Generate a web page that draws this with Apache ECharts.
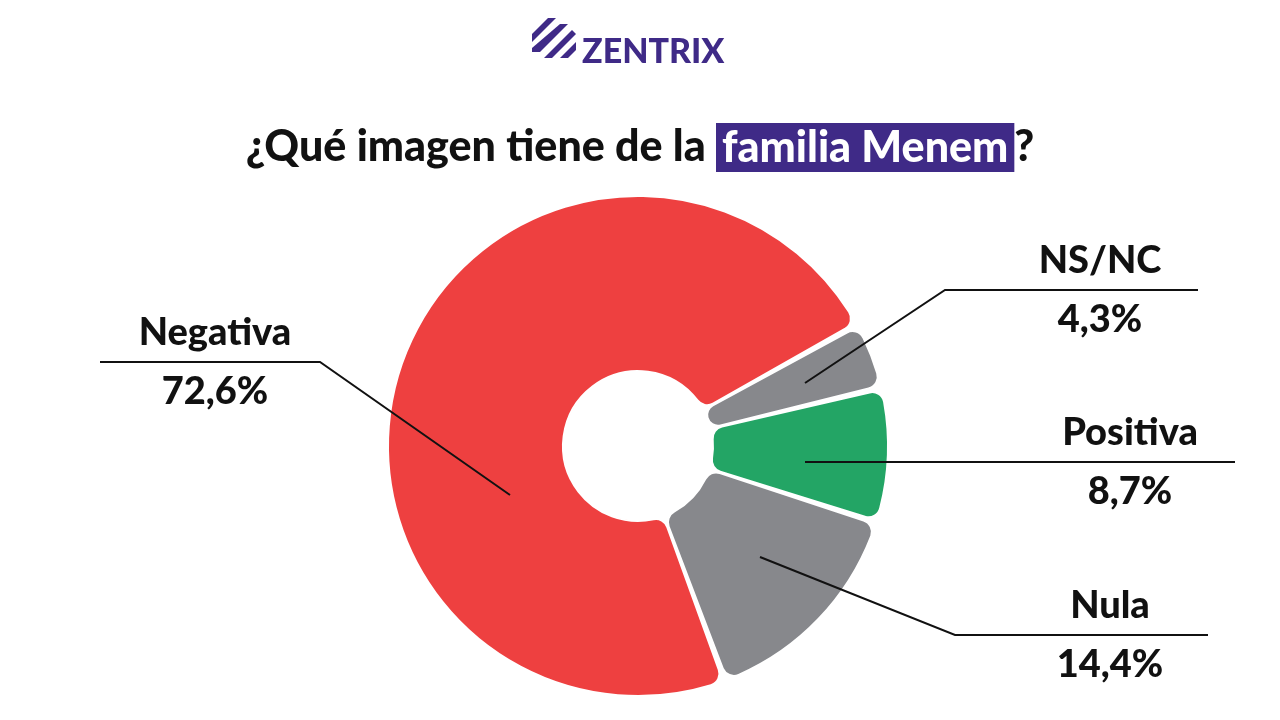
<!DOCTYPE html><html><head><meta charset="utf-8"><script src="https://cdn.jsdelivr.net/npm/echarts@6/dist/echarts.min.js"></script>
<style>body{margin:0}#c{width:1280px;height:720px}</style></head><body><div id="c"></div><script>
const categories=['NS/NC','Positiva','Nula','Negativa'];
const values=[4.3,8.7,14.4,72.6];
const colors=['#87888C','#23A565','#87888C','#EE4040'];
const labelPos=[
 {x:1100,y:290,pts:[[805,383],[945,290],[1198,290]]},
 {x:1130,y:462,pts:[[805,462],[1000,462],[1235,462]]},
 {x:1110,y:635,pts:[[760,557],[955,635],[1208,635]]},
 {x:215,y:362,pts:[[510,495],[320,362],[100,362]]}
];
const chart=echarts.init(document.getElementById('c'));
chart.setOption({
 title:{text:'¿Qué imagen tiene de la {h|familia Menem}?',left:'center',top:118,
  textStyle:{fontFamily:'Lato',fontWeight:900,fontSize:43,color:'#111',
   rich:{h:{fontFamily:'Lato',fontWeight:900,fontSize:43,color:'#fff',backgroundColor:'#3F2A87',padding:[4,6,2,6]}}}},
 graphic:[
  {type:'text',left:582,top:35,style:{text:'ZENTRIX',font:'900 34px Lato',fill:'#3F2A87'}},
  {type:'polygon',shape:{points:[[548,18],[556,18],[532,42],[532,34]]},style:{fill:'#3F2A87'}},
  {type:'polygon',shape:{points:[[560,24],[568,24],[540,52],[532,52],[532,48]]},style:{fill:'#3F2A87'}},
  {type:'polygon',shape:{points:[[572,30],[576,34],[552,58],[544,58]]},style:{fill:'#3F2A87'}},
  {type:'polygon',shape:{points:[[576,42],[576,50],[568,58],[560,58]]},style:{fill:'#3F2A87'}},
  ...labelPos.map(l=>({type:'polyline',z:100,shape:{points:l.pts},style:{stroke:'#111',lineWidth:2,fill:null}}))
 ],
 series:[{type:'pie',center:[638,446],radius:[75,250],startAngle:29,padAngle:1,
  itemStyle:{borderRadius:12,borderColor:'#fff',borderWidth:2},
  data:categories.map((n,i)=>({name:n,value:values[i],itemStyle:{color:colors[i]}})),
  label:{formatter:p=>'{n|'+p.name+'}\n{v|'+p.value.toFixed(1).replace('.',',')+'%}',
   rich:{n:{fontFamily:'Lato',fontWeight:900,fontSize:38,color:'#111',lineHeight:59,align:'center'},
         v:{fontFamily:'Lato',fontWeight:900,fontSize:38,color:'#111',lineHeight:59,align:'center'}}},
  labelLine:{show:false},
  labelLayout:p=>{const l=labelPos[p.dataIndex];return {x:l.x,y:l.y,align:'center',verticalAlign:'middle'};}
 }]
});
</script></body></html>
